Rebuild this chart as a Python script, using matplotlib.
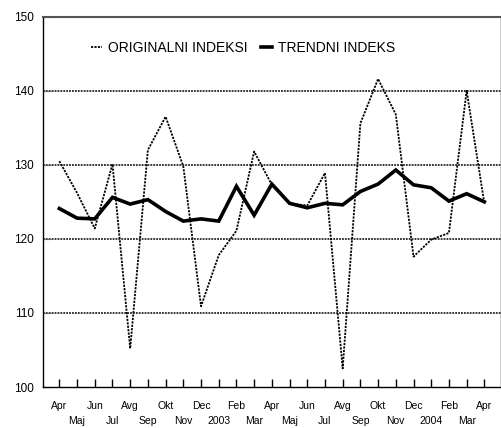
import matplotlib
matplotlib.use("Agg")
import matplotlib.pyplot as plt
from matplotlib.ticker import FixedLocator, FixedFormatter

plt.rcParams['font.family'] = ['Liberation Sans', 'DejaVu Sans']

months = ["Apr", "Maj", "Jun", "Jul", "Avg", "Sep", "Okt", "Nov", "Dec", "2003",
          "Feb", "Mar", "Apr", "Maj", "Jun", "Jul", "Avg", "Sep", "Okt", "Nov",
          "Dec", "2004", "Feb", "Mar", "Apr"]
original = [130.5, 126.2, 121.4, 130.1, 105.2, 132.0, 136.5, 129.8, 110.9, 117.8,
            121.1, 131.8, 127.3, 124.8, 124.5, 128.9, 102.5, 135.6, 141.6, 136.8,
            117.6, 119.9, 120.8, 140.0, 124.8]
trend = [124.1, 122.8, 122.7, 125.6, 124.7, 125.3, 123.7, 122.4, 122.7, 122.4,
         127.1, 123.2, 127.4, 124.8, 124.2, 124.8, 124.6, 126.4, 127.4, 129.3,
         127.3, 126.9, 125.1, 126.1, 125.0]
yticks = [100, 110, 120, 130, 140, 150]
series_names = ["ORIGINALNI INDEKSI", "TRENDNI INDEKS"]

W, H = 502, 428
fig = plt.figure(figsize=(W / 100, H / 100), dpi=100)
ax = fig.add_axes([42.7 / W, 1 - 387 / H, (501 - 42.7) / W, (387 - 16.7) / H])

x = list(range(len(months)))

dots = (0, (1.2, 0.7))
for v in yticks[1:-1]:
    ax.axhline(v, color='black', lw=1.1, linestyle=dots, zorder=1)

ax.plot(x, original, color='black', lw=1.3, linestyle=dots,
        label=series_names[0], zorder=2)
ax.plot(x, trend, color='black', lw=2.6, solid_joinstyle='miter',
        label=series_names[1], zorder=3)

ax.set_xlim(-0.94, 24.94)
ax.set_ylim(100, 150)

ax.set_yticks(yticks)
ax.set_yticklabels([str(v) for v in yticks])
ax.tick_params(axis='y', direction='in', length=6, width=0.8, color='#666666',
               labelsize=8.5, pad=6.5)

even = [i for i in x if i % 2 == 0]
odd = [i for i in x if i % 2 == 1]
ax.xaxis.set_major_locator(FixedLocator(even))
ax.xaxis.set_major_formatter(FixedFormatter([months[i] for i in even]))
ax.xaxis.set_minor_locator(FixedLocator(odd))
ax.xaxis.set_minor_formatter(FixedFormatter([months[i] for i in odd]))
ax.tick_params(axis='x', which='major', direction='in', length=6, width=1,
               labelsize=7.5, pad=10.3)
ax.tick_params(axis='x', which='minor', direction='in', length=6, width=1,
               labelsize=7.5, pad=21.0)

for s in ['left', 'bottom', 'right']:
    ax.spines[s].set_color('black')
    ax.spines[s].set_linewidth(1.0)
ax.spines['top'].set_color('#555555')
ax.spines['top'].set_linewidth(1.5)

leg = ax.legend(loc='center', bbox_to_anchor=(0.437, 0.915), ncol=2, frameon=False,
                fontsize=10, handlelength=0.8, handletextpad=0.4, columnspacing=1.0,
                borderpad=0)

fig.savefig("out.png", dpi=100)
